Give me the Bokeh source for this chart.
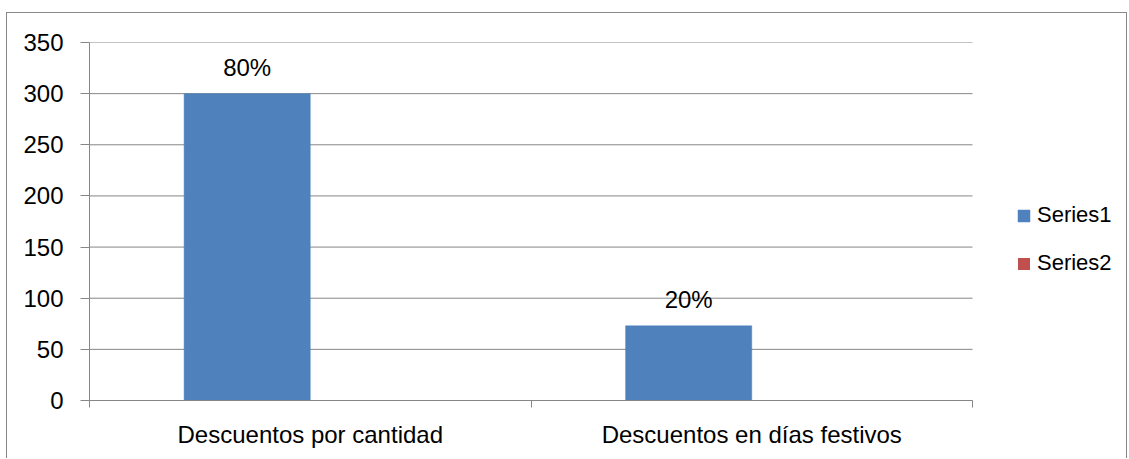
from bokeh.plotting import figure
from bokeh.models import Range1d, FixedTicker, Legend, LegendItem, ColumnDataSource
from bokeh.core.properties import value
from bokeh.embed import file_html
from bokeh.resources import INLINE

# ---- data ----
categories = ["Descuentos por cantidad", "Descuentos en días festivos"]
series1 = [300, 73]
series2 = [0.6, 0]
series1_labels = ["80%", "20%"]
y_ticks = [0, 50, 100, 150, 200, 250, 300, 350]

# ---- style ----
FONT = "Liberation Sans"
BLUE = "#4F81BD"
RED = "#C0504D"
GRID = "#868686"

n = len(categories)
bar_w = 1 / 3.5
centers = [i + 0.5 for i in range(n)]
x1 = [c - bar_w / 2 for c in centers]
x2 = [c + bar_w / 2 for c in centers]

# plot area: 883 px for the categories, frame extended to the right to host the legend
PLOT_PX = 883.0
FRAME_PX = 1039.0
x_end = n * FRAME_PX / PLOT_PX

src = ColumnDataSource(dict(x1=x1, x2=x2, s1=series1, s2=series2, lab=series1_labels))

p = figure(width=1121, height=446, x_range=Range1d(0, x_end), y_range=Range1d(0, 350),
           output_backend="svg", toolbar_location=None,
           min_border_left=82, min_border_right=0, min_border_top=29, min_border_bottom=59)
p.styles = {"margin-left": "6px", "margin-top": "12px",
            "border-left": "1px solid #898989", "border-top": "1px solid #898989",
            "border-right": "1px solid #898989"}
p.outline_line_color = None
p.background_fill_color = "white"
p.border_fill_color = "white"

# horizontal gridlines over the category area only
p.segment(x0=[0] * len(y_ticks), x1=[n] * len(y_ticks), y0=y_ticks, y1=y_ticks,
          line_color=GRID, line_width=1)

r1 = p.vbar(x="x1", top="s1", width=bar_w, bottom=0, source=src,
            fill_color=BLUE, line_color=BLUE, line_width=0.5)
r2 = p.vbar(x="x2", top="s2", width=bar_w, bottom=0, source=src,
            fill_color=RED, line_color=None)

p.text(x="x1", y="s1", text="lab", source=src, text_align="center",
       text_baseline="alphabetic", y_offset=-26, text_font=value(FONT),
       text_font_size="24px", text_color="black")

# y axis
p.yaxis.ticker = FixedTicker(ticks=y_ticks)
p.yaxis.axis_line_color = GRID
p.yaxis.major_tick_line_color = GRID
p.yaxis.major_tick_out = 9
p.yaxis.major_tick_in = 0
p.yaxis.minor_tick_line_color = None
p.yaxis.major_label_text_font = FONT
p.yaxis.major_label_text_font_size = "24px"
p.yaxis.major_label_text_color = "black"
p.yaxis.major_label_standoff = 17

# x axis
p.xaxis.bounds = (0, n)
p.xaxis.ticker = FixedTicker(ticks=centers, minor_ticks=[float(i) for i in range(n + 1)])
p.xaxis.major_label_overrides = {c: lab for c, lab in zip(centers, categories)}
p.xaxis.axis_line_color = GRID
p.xaxis.major_tick_line_color = None
p.xaxis.major_tick_out = 0
p.xaxis.major_tick_in = 0
p.xaxis.minor_tick_line_color = GRID
p.xaxis.minor_tick_out = 7
p.xaxis.minor_tick_in = 0
p.xaxis.major_label_text_font = FONT
p.xaxis.major_label_text_font_size = "24px"
p.xaxis.major_label_text_color = "black"
p.xaxis.major_label_standoff = 13

p.xgrid.grid_line_color = None
p.ygrid.grid_line_color = None

legend = Legend(items=[LegendItem(label="Series1", renderers=[r1]),
                       LegendItem(label="Series2", renderers=[r2])],
                location=(927, 124), padding=0, margin=0, spacing=22,
                glyph_width=15, glyph_height=15, label_standoff=6,
                border_line_color=None, background_fill_alpha=0,
                label_text_font=FONT, label_text_font_size="22px",
                label_text_color="black")
p.add_layout(legend, "center")

open("out.html", "w").write(file_html(p, INLINE))
